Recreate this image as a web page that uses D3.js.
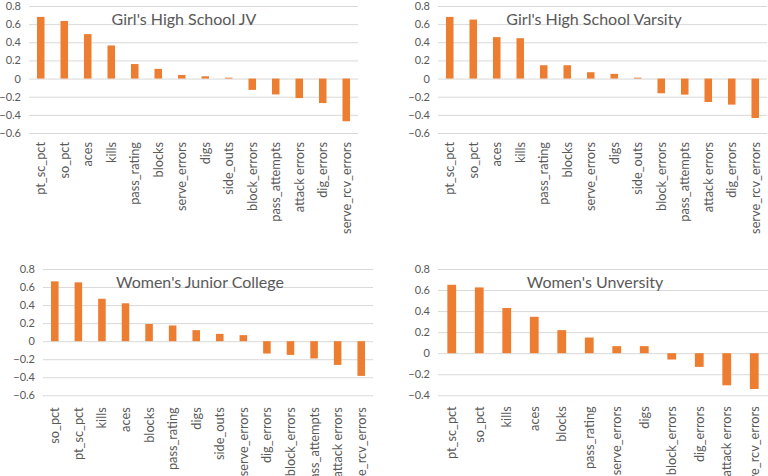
<!DOCTYPE html>
<html>
<head>
<meta charset="utf-8">
<script src="https://cdn.jsdelivr.net/npm/d3@7"></script>
<style>
  html, body { margin: 0; padding: 0; background: #fff; }
  svg { display: block; font-family: Lato, "Open Sans", sans-serif; }
</style>
</head>
<body>
<svg id="chart" width="768" height="476"></svg>
<script>
// ---- Data ----
const jvTitle = "Girl's High School JV";
const jvCategories = ["pt_sc_pct","so_pct","aces","kills","pass_rating","blocks","serve_errors","digs","side_outs","block_errors","pass_attempts","attack errors","dig_errors","serve_rcv_errors"];
const jvValues = [0.68, 0.635, 0.49, 0.365, 0.16, 0.107, 0.04, 0.025, 0.01, -0.125, -0.175, -0.215, -0.27, -0.47];

const varsityTitle = "Girl's High School  Varsity";
const varsityCategories = ["pt_sc_pct","so_pct","aces","kills","pass_rating","blocks","serve_errors","digs","side_outs","block_errors","pass_attempts","attack errors","dig_errors","serve_rcv_errors"];
const varsityValues = [0.68, 0.65, 0.457, 0.445, 0.147, 0.147, 0.07, 0.052, 0.01, -0.162, -0.177, -0.258, -0.287, -0.435];

const jucoTitle = "Women's Junior College";
const jucoCategories = ["so_pct","pt_sc_pct","kills","aces","blocks","pass_rating","digs","side_outs","serve_errors","dig_errors","block_errors","pass_attempts","attack errors","serve_rcv_errors"];
const jucoValues = [0.663, 0.652, 0.47, 0.42, 0.19, 0.174, 0.122, 0.081, 0.067, -0.137, -0.152, -0.192, -0.263, -0.385];

const univTitle = "Women's Unversity";
const univCategories = ["pt_sc_pct","so_pct","kills","aces","blocks","pass_rating","serve_errors","digs","block_errors","dig_errors","attack errors","serve_rcv_errors"];
const univValues = [0.65, 0.625, 0.43, 0.346, 0.219, 0.149, 0.067, 0.067, -0.06, -0.13, -0.305, -0.34];

const ticksA = [-0.6, -0.4, -0.2, 0, 0.2, 0.4, 0.6, 0.8];
const ticksB = [-0.4, -0.2, 0, 0.2, 0.4, 0.6, 0.8];

// ---- Layout ----
const panels = [
  { title: jvTitle, cats: jvCategories, vals: jvValues, ticks: ticksA, x0: 29, x1: 358, y0: 6, y1: 133, tx: 184, ty: 25, pad: 8, lab: 9 },
  { title: varsityTitle, cats: varsityCategories, vals: varsityValues, ticks: ticksA, x0: 438, x1: 767, y0: 6, y1: 133, tx: 594, ty: 25, pad: 8, lab: 9 },
  { title: jucoTitle, cats: jucoCategories, vals: jucoValues, ticks: ticksA, x0: 43, x1: 373, y0: 269, y1: 395.3, tx: 200, ty: 288, pad: 8, lab: 12 },
  { title: univTitle, cats: univCategories, vals: univValues, ticks: ticksB, x0: 438, x1: 768, y0: 269, y1: 395.3, tx: 595, ty: 288, pad: 8, lab: 11 }
];

const svg = d3.select("#chart");
const barColor = "#ED7D31";
const gridColor = "#D9D9D9";
const textColor = "#595959";

// fit category label font so the longest label spans the same length as in the reference
const probe = svg.append("text").style("font-family", "Lato, sans-serif").style("font-size", "20px").text("serve_rcv_errors");
const probeLen = probe.node().getComputedTextLength();
probe.remove();
const labelSize = Math.max(12, Math.min(18, 20 * 92 / probeLen));

panels.forEach(p => {
  const g = svg.append("g");
  const x = d3.scaleBand().domain(p.cats).range([p.x0, p.x1]).paddingInner(0.68).paddingOuter(0.34);
  const y = d3.scaleLinear().domain([d3.min(p.ticks), d3.max(p.ticks)]).range([p.y1, p.y0]);

  // gridlines + tick labels
  const yAxis = d3.axisLeft(y).tickValues(p.ticks).tickSize(-(p.x1 - p.x0)).tickPadding(p.pad)
    .tickFormat(d => d === 0 ? "0" : d3.format(".1f")(d));
  const ga = g.append("g").attr("transform", `translate(${p.x0},0)`).call(yAxis);
  ga.select(".domain").remove();
  ga.selectAll(".tick line").attr("stroke", gridColor).attr("stroke-width", 1);
  ga.selectAll(".tick text").attr("fill", textColor).style("font-size", "11px").style("font-family", "Lato, sans-serif");

  // bars
  g.selectAll("rect.bar").data(p.cats.map((c, i) => ({ c, v: p.vals[i] }))).enter()
    .append("rect").attr("class", "bar")
    .attr("x", d => x(d.c))
    .attr("width", x.bandwidth())
    .attr("y", d => Math.min(y(d.v), y(0)))
    .attr("height", d => Math.abs(y(d.v) - y(0)))
    .attr("fill", barColor);

  // category labels
  const xAxis = d3.axisBottom(x).tickSize(0).tickPadding(0);
  const gx = g.append("g").attr("transform", `translate(0,${p.y1})`).call(xAxis);
  gx.select(".domain").remove();
  gx.selectAll(".tick text")
    .attr("fill", textColor)
    .style("font-size", labelSize + "px").style("font-family", "Lato, sans-serif")
    .attr("text-anchor", "end")
    .attr("dy", "0.35em")
    .attr("transform", `translate(0,${p.lab}) rotate(-90)`)
    .attr("x", 0).attr("y", 0);

  // title
  g.append("text").attr("x", p.tx).attr("y", p.ty).attr("text-anchor", "middle")
    .attr("fill", textColor).style("font-size", "16px").style("font-family", "Lato, sans-serif")
    .text(p.title);
});
</script>
</body>
</html>
